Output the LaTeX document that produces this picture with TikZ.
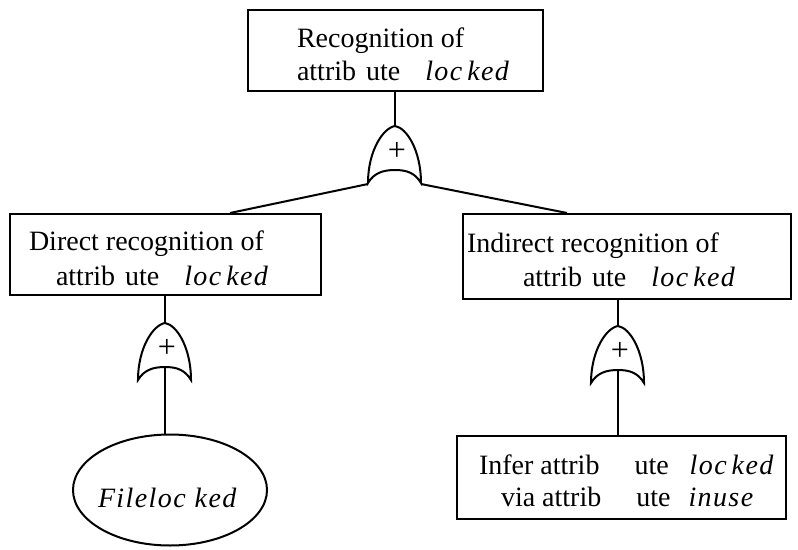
\documentclass[tikz,border=0pt]{standalone}
\usepackage{fontspec}
\setmainfont{Liberation Serif}
\newfontfamily\itsp[LetterSpace=5]{Liberation Serif}
\usetikzlibrary{shapes.geometric}
\newcommand{\lockedtxt}{{\itsp\itshape loc\hspace{5pt}ked}}
\begin{document}
\begin{tikzpicture}[x=1pt,y=-1pt,
  line width=2pt,
  boxnode/.style={draw,rectangle,inner sep=0pt,anchor=north west},
  txt/.style={anchor=base west,inner sep=0pt,font=\fontsize{28}{34}\selectfont},
  plustxt/.style={inner sep=0pt,font=\fontsize{32}{36}\selectfont},
  orgate/.pic={
    \draw (-27,57) .. controls (-27,25) and (-12,2) .. (0,0)
          .. controls (12,2) and (26,25) .. (26,57)
          .. controls (20,47) and (12,44) .. (0,44)
          .. controls (-12,44) and (-21,47) .. (-27,57) -- cycle;
    \coordinate (-top) at (0,0);
    \coordinate (-base) at (0,44);
    \coordinate (-l) at (-27,58);
    \coordinate (-r) at (26,58);
    \node[plustxt] (-plus) at (2,25) {+};
  }]
\useasboundingbox (0,0) rectangle (798,549);

% boxes
\node[boxnode,minimum width=295pt,minimum height=81pt] (top) at (247,9) {};
\node[boxnode,minimum width=311pt,minimum height=81pt] (direct) at (9,213) {};
\node[boxnode,minimum width=328pt,minimum height=85pt] (indirect) at (462,213) {};
\node[boxnode,minimum width=329pt,minimum height=83pt] (infer) at (456,435) {};
\node[draw,ellipse,minimum width=194pt,minimum height=111pt,inner sep=0pt] (file) at (170,490) {};

% texts
\node[txt] (top1) at (296,47) {Recognition of};
\node[txt] (top2) at (296,80) {attrib\hspace{10pt}ute\hspace{25pt}\lockedtxt};
\node[txt] (dir1) at (28,250) {Direct recognition of};
\node[txt] (dir2) at (55,285) {attrib\hspace{10pt}ute\hspace{25pt}\lockedtxt};
\node[txt] (ind1) at (466,252) {Indirect recognition of};
\node[txt] (ind2) at (522,286) {attrib\hspace{10pt}ute\hspace{25pt}\lockedtxt};
\node[txt] (inf1) at (478,474) {Infer attrib\hspace{35pt}ute\hspace{21pt}\lockedtxt};
\node[txt] (inf2) at (500,506) {via attrib\hspace{35pt}ute\hspace{18pt}{\itsp\itshape inuse}};
\node[txt] (filetxt) at (97,507) {{\itsp\itshape Fileloc\hspace{9pt}ked}};

% gates
\pic (g1) at (395,126) {orgate};
\pic (g2) at (165,323) {orgate};
\pic (g3) at (618,326) {orgate};

% anchors on child tops
\coordinate (dirin) at (230,213);
\coordinate (indin) at (567,213);

% connectors
\draw (top.south -| g1-top) -- (g1-top);
\draw (g1-l) -- (dirin);
\draw (g1-r) -- (indin);
\draw (direct.south -| g2-top) -- (g2-top);
\draw (g2-base) -- (g2-base |- file.north);
\draw (indirect.south -| g3-top) -- (g3-top);
\draw (g3-base) -- (g3-base |- infer.north);
\end{tikzpicture}
\end{document}
